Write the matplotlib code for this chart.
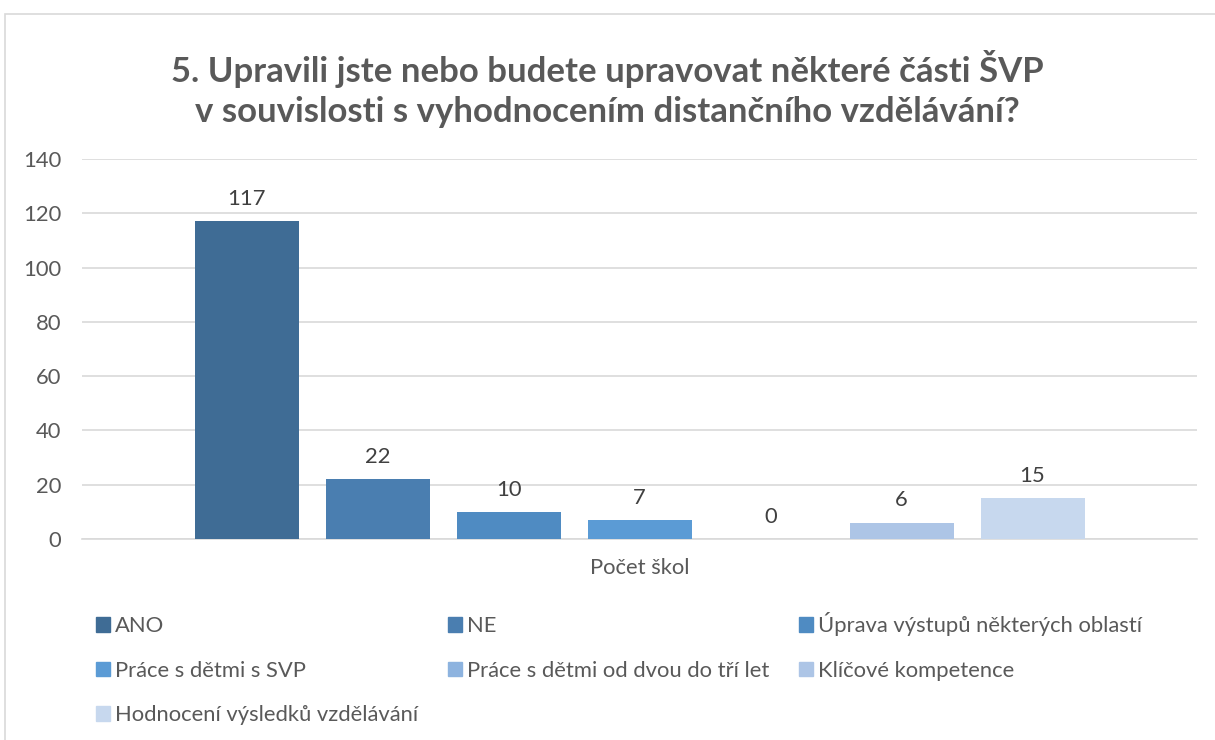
import matplotlib
matplotlib.use('Agg')
import matplotlib.pyplot as plt
from matplotlib.patches import Rectangle, Patch

plt.rcParams['font.family'] = ['Lato', 'DejaVu Sans']

# odpovedi a pocty skol
kategorie = ['ANO', 'NE', 'Úprava výstupů některých oblastí', 'Práce s dětmi s SVP',
             'Práce s dětmi od dvou do tří let', 'Klíčové kompetence',
             'Hodnocení výsledků vzdělávání']
pocty = [117, 22, 10, 7, 0, 6, 15]
barvy = ['#3F6C95', '#4A7EB0', '#4F8BC2', '#5B9BD5', '#8DB3DF', '#ADC5E6', '#C7D8EE']

fig = plt.figure(figsize=(12.15, 7.4), dpi=100)

# ramecek grafu
fig.patches.append(Rectangle((5/1215, -0.1), 1.2, 1 - 14/740 + 0.1, transform=fig.transFigure,
                             fill=False, edgecolor='#D9D9D9', linewidth=1.2))

ax = fig.add_axes([82/1215, 1 - 539/740, (1197 - 82)/1215, 380/740])

fs = 15.8
sirka = 104/131
for i in range(len(pocty)):
    x = i - 3
    ax.bar(x, pocty[i], width=sirka, color=barvy[i], zorder=3)
    ax.text(x, pocty[i] + 4.5, str(pocty[i]), ha='center', va='bottom', fontsize=fs, color='#404040')

ax.set_xlim(-1115/131/2, 1115/131/2)
ax.set_ylim(0, 140)
ax.set_yticks(range(0, 141, 20))
ax.yaxis.grid(True, color='#D9D9D9', linewidth=1.2, zorder=0)
ax.set_xticks([0])
ax.set_xticklabels(['Počet škol'])
ax.tick_params(axis='x', length=0, pad=14, labelsize=fs, labelcolor='#595959')
ax.tick_params(axis='y', length=0, pad=15, labelsize=fs, labelcolor='#595959')
for s in ['top', 'right', 'left']:
    ax.spines[s].set_visible(False)
ax.spines['bottom'].set_color('#D9D9D9')
ax.spines['bottom'].set_linewidth(1.2)

fig.text(0.5, 1 - 89/740, '5. Upravili jste nebo budete upravovat některé části ŠVP\n'
         'v souvislosti s vyhodnocením distančního vzdělávání?',
         ha='center', va='center', fontsize=25, fontweight='bold', color='#595959',
         linespacing=1.33)

# legenda po radcich
poradi = [0, 3, 6, 1, 4, 2, 5]
handles = [Patch(color=barvy[i]) for i in poradi]
labels = [kategorie[i] for i in poradi]
fig.legend(handles, labels, ncol=3, loc='upper left', bbox_to_anchor=(96/1215, 1 - 612/740),
           frameon=False, fontsize=fs, labelcolor='#595959', handlelength=0.64, handleheight=0.64,
           handletextpad=0.23, columnspacing=1.35, labelspacing=1.12, borderpad=0, borderaxespad=0)

fig.savefig('out.png', dpi=100)
